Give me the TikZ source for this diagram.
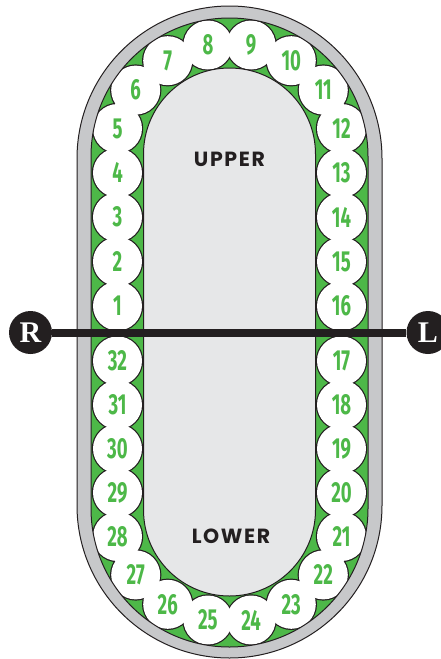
\documentclass[tikz,border=0pt]{standalone}
\usepackage{fontspec}
\usepackage{graphicx}
\newfontfamily\numfont{Fira Sans}
\newfontfamily\capfont{Poppins}[LetterSpace=8]
\newfontfamily\serfont{Liberation Serif}
\definecolor{grn}{HTML}{4DB848}
\definecolor{ringgray}{HTML}{C7C8CA}
\definecolor{innergray}{HTML}{E6E7E8}
\definecolor{ink}{HTML}{231F20}
\newcommand\sqz[1]{\scalebox{0.64}[1]{#1}}
\begin{document}
\begin{tikzpicture}[x=1pt,y=-1pt,
  lbl/.style={text=grn,inner sep=0pt,font=\numfont\bfseries\fontsize{29}{29}\selectfont},
  zonelbl/.style={text=ink,inner sep=0pt,font=\capfont\bfseries\fontsize{20.5}{20.5}\selectfont},
  sidenode/.style={circle,fill=ink,minimum size=43pt,inner sep=0pt,text=white,font=\serfont\bfseries\fontsize{30}{30}\selectfont},
  barline/.style={draw=ink,line width=8pt},
  outl/.style={draw=ink,line width=1pt}]
\useasboundingbox (0,0) rectangle (441,659);
% green band
\path[fill=grn] (91,156.5) arc[start angle=180,end angle=0,radius=138.5pt] -- (368,508.5) arc[start angle=0,end angle=-180,radius=138.5pt] -- cycle;
% ball positions
\foreach \n/\x/\y in {1/117.5/306,2/117.5/261.6,3/117.5/217.2,4/117.5/172.8,5/117.5/128.5,
  6/135.7/90.1,7/167.7/60.7,8/207.9/45,9/251.1/45,10/291.3/60.7,11/323.3/90.1,
  12/341.5/128.5,13/341.5/172.8,14/341.5/217.2,15/341.5/261.6,16/341.5/306,
  17/341.5/360.9,18/341.5/404.8,19/341.5/448.7,20/341.5/492.6,21/341.5/536.5,
  22/323.3/574.9,23/291.3/604.3,24/251.1/620,25/207.9/620,26/167.7/604.3,27/135.7/574.9,
  28/117.5/536.5,29/117.5/492.6,30/117.5/448.7,31/117.5/404.8,32/117.5/360.9}
  {\coordinate (p\n) at (\x,\y);}
\foreach \n in {1,...,32} {\draw[ink,line width=2.4pt] (p\n) circle[radius=24.5pt];}
\foreach \n in {1,...,32} {\fill[white] (p\n) circle[radius=24.5pt];}
% gray ring
\path[fill=ringgray,even odd rule]
  (77,158.5) arc[start angle=180,end angle=0,radius=152.5pt] -- (382,505.5) arc[start angle=0,end angle=-180,radius=152.5pt] -- cycle
  (91,156.5) arc[start angle=180,end angle=0,radius=138.5pt] -- (368,508.5) arc[start angle=0,end angle=-180,radius=138.5pt] -- cycle;
\path[outl] (77,158.5) arc[start angle=180,end angle=0,radius=152.5pt] -- (382,505.5) arc[start angle=0,end angle=-180,radius=152.5pt] -- cycle;
\path[outl] (91,156.5) arc[start angle=180,end angle=0,radius=138.5pt] -- (368,508.5) arc[start angle=0,end angle=-180,radius=138.5pt] -- cycle;
% inner field
\path[fill=innergray,outl] (143.5,154) arc[start angle=180,end angle=0,radius=86pt] -- (315.5,510) arc[start angle=0,end angle=-180,radius=86pt] -- cycle;
% labels
\foreach \n in {1,...,32} {\node[lbl] (n\n) at (p\n) {\sqz{\n}};}
\node[zonelbl] (upper) at (229.5,159) {UPPER};
\node[zonelbl] (lower) at (231,536) {LOWER};
% R / L bar
\node[sidenode] (R) at (30.5,332.5) {R};
\node[sidenode] (L) at (428,332.5) {L};
\draw[barline] (R) -- (L);
\end{tikzpicture}
\end{document}
